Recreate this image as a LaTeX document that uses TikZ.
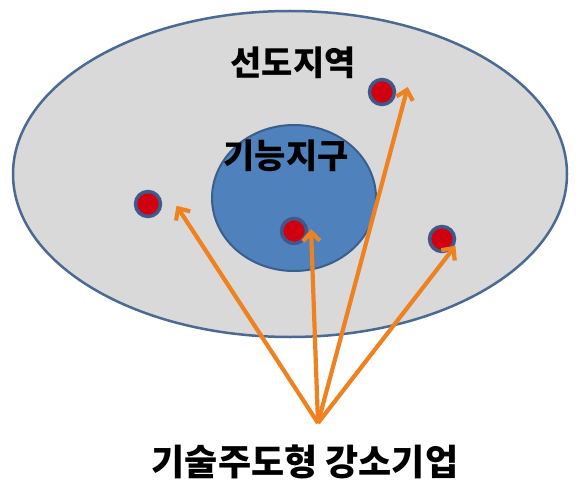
\documentclass[tikz,border=0pt]{standalone}
\usepackage{fontspec}
\setmainfont{Noto Sans CJK KR}
\usetikzlibrary{arrows.meta}
\definecolor{ringgray}{HTML}{D9D9D9}
\definecolor{ringedge}{HTML}{4A6A94}
\definecolor{corefill}{HTML}{4F81BD}
\definecolor{coreedge}{HTML}{3A5F8C}
\definecolor{dotred}{HTML}{D00010}
\definecolor{dotedge}{HTML}{3F5A8A}
\definecolor{arr}{HTML}{EE8220}
\tikzset{
  dot/.style={circle, fill=dotred, draw=dotedge, line width=3.5pt, minimum size=25pt, inner sep=0pt},
  lbl/.style={font=\bfseries\fontsize{34}{38}\selectfont, inner sep=0pt},
  arrowline/.style={draw=arr, line width=4.2pt, -{Straight Barb[length=9pt,width=17pt,line width=4.2pt]}, shorten >=1pt}
}
\begin{document}
\begin{tikzpicture}[x=1pt,y=-1pt]
\useasboundingbox (0,0) rectangle (578,484);
\fill[white] (0,0) rectangle (578,484);
\draw[fill=ringgray, draw=ringedge, line width=2.5pt] (290,174) ellipse [x radius=277, y radius=163];
\draw[fill=corefill, draw=coreedge, line width=2pt] (294,198) ellipse [x radius=82, y radius=73];
\node[lbl] (lead) at (293,63) {선도지역};
\node[lbl] (func) at (286,156) {기능지구};
\node[dot] (d1) at (148,204) {};
\node[dot] (d2) at (294,231) {};
\node[dot] (d3) at (382,92) {};
\node[dot] (d4) at (442,239) {};
\coordinate (o) at (318,423);
\coordinate (t1) at (176,205);
\coordinate (t2) at (311,228);
\coordinate (t3) at (408,86);
\coordinate (t4) at (456,245);
\draw[arrowline] (o) -- (t1);
\draw[arrowline] (o) -- (t2);
\draw[arrowline] (o) -- (t3);
\draw[arrowline] (o) -- (t4);
\node[font=\bfseries\fontsize{36}{40}\selectfont, inner sep=0pt] (cap) at (305,462) {기술주도형 강소기업};
\end{tikzpicture}
\end{document}
